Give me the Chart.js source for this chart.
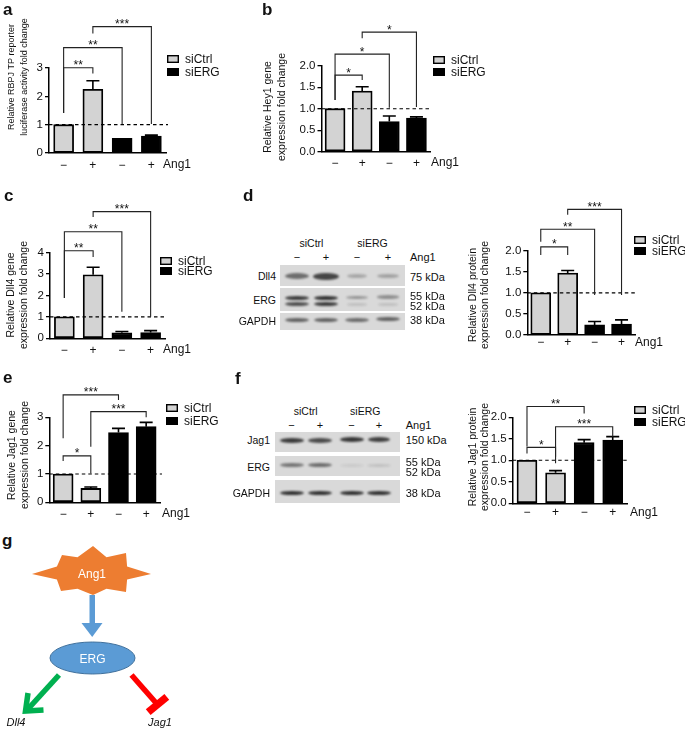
<!DOCTYPE html>
<html>
<head>
<meta charset="utf-8">
<script src="https://cdn.jsdelivr.net/npm/chart.js@4.4.1/dist/chart.umd.min.js"></script>
<style>
  body { margin: 0; background: #fff; }
  #fig { position: relative; width: 685px; height: 732px; overflow: hidden;
         font-family: "Liberation Sans", Arial, Helvetica, sans-serif; color: #111; }
  #fig canvas { position: absolute; }
  .t { position: absolute; white-space: nowrap; line-height: 1; }
  .strip { position: absolute; background: #d9d9d9; }
  .band { position: absolute; border-radius: 50%; filter: blur(1.1px); }
</style>
</head>
<body>
<div id="fig"></div>
<script>
// ===== Data =====
const lanes  = ['−', '+', '−', '+'];          // Ang1 treatment per bar
const groups = ['siCtrl', 'siERG'];
const comparisons = [[0, 1], [0, 2], [1, 3]];  // bracket pairs (bar indices)

// a – RBPJ TP reporter
const rbpjCtrl = [1.00, 2.25, null, null];
const rbpjErg  = [null, null, 0.52, 0.60];
const rbpjSem  = [0, 0.30, 0, 0.03];
const rbpjSig  = ['**', '**', '***'];

// b – Hey1 gene
const hey1Ctrl = [1.00, 1.41, null, null];
const hey1Erg  = [null, null, 0.70, 0.78];
const hey1Sem  = [0, 0.10, 0.13, 0.03];
const hey1Sig  = ['*', '*', '*'];

// c – Dll4 gene
const dll4GeneCtrl = [1.00, 2.97, null, null];
const dll4GeneErg  = [null, null, 0.26, 0.27];
const dll4GeneSem  = [0, 0.35, 0.06, 0.09];
const dll4GeneSig  = ['**', '**', '***'];

// d – Dll4 protein
const dll4ProtCtrl = [1.00, 1.47, null, null];
const dll4ProtErg  = [null, null, 0.24, 0.26];
const dll4ProtSem  = [0, 0.06, 0.08, 0.10];
const dll4ProtSig  = ['*', '**', '***'];

// e – Jag1 gene
const jag1GeneCtrl = [1.00, 0.49, null, null];
const jag1GeneErg  = [null, null, 2.46, 2.67];
const jag1GeneSem  = [0, 0.05, 0.15, 0.15];
const jag1GeneSig  = ['*', '***', '***'];

// f – Jag1 protein
const jag1ProtCtrl = [1.00, 0.71, null, null];
const jag1ProtErg  = [null, null, 1.41, 1.47];
const jag1ProtSem  = [0, 0.05, 0.07, 0.08];
const jag1ProtSig  = ['*', '**', '***'];

// ===== Layout (page pixels) =====
const panels = [
  { id: 'a', box: [0, 12, 240, 168], axisX: 49, y0: 153, yTop: 68, xEnd: 166, max: 3, step: 1, dec: 0,
    ctrl: rbpjCtrl, erg: rbpjErg, sem: rbpjSem, sig: rbpjSig,
    title: ['Relative RBPJ TP reporter', 'luciferase activity fold change'], titleX: 12, titleGap: 13, titleY: 77, titleSize: 9,
    legend: [167, 55, 13], ang: [163, 165],
    levels: [[3.01, 1.41, 2.81], [3.72, 1.41, 1.02], [4.46, 4.22, 1.02]] },
  { id: 'b', box: [245, 12, 245, 168], axisX: 321.5, y0: 151.7, yTop: 65.7, xEnd: 430, max: 2, step: 0.5, dec: 1,
    ctrl: hey1Ctrl, erg: hey1Erg, sem: hey1Sem, sig: hey1Sig,
    title: ['Relative Hey1 gene', 'expression fold change'], titleX: 268, titleGap: 14, titleY: 107, titleSize: 10.5,
    legend: [433, 56, 12], ang: [431, 163],
    levels: [[1.78, 1.20, 1.67], [2.27, 1.20, 1.02], [2.78, 2.64, 1.04]] },
  { id: 'c', box: [0, 195, 240, 170], axisX: 50, y0: 338.3, yTop: 252.7, xEnd: 165, max: 4, step: 1, dec: 0,
    ctrl: dll4GeneCtrl, erg: dll4GeneErg, sem: dll4GeneSem, sig: dll4GeneSig,
    title: ['Relative Dll4 gene', 'expression fold change'], titleX: 11, titleGap: 13, titleY: 295, titleSize: 10.5,
    legend: [160, 257, 10], ang: [163, 350],
    levels: [[4.09, 1.88, 3.80], [4.98, 1.88, 1.24], [5.92, 5.67, 1.01]] },
  { id: 'd', box: [455, 195, 230, 165], axisX: 527.3, y0: 335, yTop: 250.7, xEnd: 635, max: 2, step: 0.5, dec: 1,
    ctrl: dll4ProtCtrl, erg: dll4ProtErg, sem: dll4ProtSem, sig: dll4ProtSig,
    title: ['Relative Dll4 protein', 'expression fold change'], titleX: 473, titleGap: 12.5, titleY: 295, titleSize: 10.5,
    legend: [634, 236, 11], ang: [635, 342.7],
    levels: [[2.09, 1.90, 1.90], [2.51, 2.21, 0.95], [2.98, 2.85, 0.95]] },
  { id: 'e', box: [0, 378, 240, 150], axisX: 49.3, y0: 502.3, yTop: 417.3, xEnd: 160, max: 3, step: 1, dec: 0,
    ctrl: jag1GeneCtrl, erg: jag1GeneErg, sem: jag1GeneSem, sig: jag1GeneSig,
    title: ['Relative Jag1 gene', 'expression fold change'], titleX: 12, titleGap: 13, titleY: 455, titleSize: 10.5,
    legend: [166, 404, 13], ang: [162, 514],
    levels: [[1.64, 1.46, 1.02], [3.79, 2.26, 3.61], [3.20, 1.96, 3.00]] },
  { id: 'f', box: [455, 378, 230, 150], axisX: 512.7, y0: 503.3, yTop: 417.3, xEnd: 627, max: 2, step: 0.5, dec: 1,
    ctrl: jag1ProtCtrl, erg: jag1ProtErg, sem: jag1ProtSem, sig: jag1ProtSig,
    title: ['Relative Jag1 protein', 'expression fold change'], titleX: 473, titleGap: 12.5, titleY: 457, titleSize: 10.5,
    legend: [634, 406, 12], ang: [630, 512.7],
    levels: [[1.30, 1.16, 0.93], [2.25, 1.32, 2.09], [1.78, 1.08, 1.55]] },
];

const FONT = '"Liberation Sans", Arial, Helvetica, sans-serif';
const GREY = '#d3d3d3';
const fig = document.getElementById('fig');
Chart.defaults.font.family = FONT;
Chart.defaults.color = '#111';

// ===== Helpers =====
function txt(x, y, s, o = {}) {
  const el = document.createElement('div');
  el.className = 't';
  el.textContent = s;
  el.style.left = x + 'px';
  el.style.top = y + 'px';
  el.style.fontSize = (o.size || 11) + 'px';
  const ax = o.align === 'right' ? '-100%' : o.align === 'left' ? '0' : '-50%';
  el.style.transform = `translate(${ax},-50%)`;
  if (o.bold) el.style.fontWeight = 'bold';
  if (o.italic) el.style.fontStyle = 'italic';
  fig.appendChild(el);
}

// brackets, error bars, dashed line, legend, axis title
function panelPlugin(p) {
  return {
    id: 'panel' + p.id,
    afterDatasetsDraw(chart) {
      const { ctx, chartArea: ca, scales: { x, y } } = chart;
      ctx.save();

      // reference line at 1
      const y1 = y.getPixelForValue(1);
      ctx.strokeStyle = '#000';
      ctx.lineWidth = 1.1;
      ctx.setLineDash([3.5, 3]);
      ctx.beginPath(); ctx.moveTo(ca.left, y1); ctx.lineTo(ca.right + 2, y1); ctx.stroke();
      ctx.setLineDash([]);

      // SEM (upper only)
      ctx.lineWidth = 1.6;
      p.sem.forEach((e, i) => {
        if (!e) return;
        const v = p.ctrl[i] ?? p.erg[i];
        const cx = x.getPixelForTick(i);
        const yb = y.getPixelForValue(v), yt = y.getPixelForValue(v + e);
        ctx.beginPath();
        ctx.moveTo(cx, yb); ctx.lineTo(cx, yt);
        ctx.moveTo(cx - 6.5, yt); ctx.lineTo(cx + 6.5, yt);
        ctx.stroke();
      });

      // significance brackets
      ctx.lineWidth = 1.1;
      ctx.strokeStyle = '#222';
      ctx.fillStyle = '#111';
      ctx.font = `12px ${FONT}`;
      ctx.textAlign = 'center';
      ctx.textBaseline = 'alphabetic';
      comparisons.forEach(([i, j], k) => {
        const [top, lEnd, rEnd] = p.levels[k];
        const xa = x.getPixelForTick(i), xb = x.getPixelForTick(j);
        const yt = y.getPixelForValue(top);
        ctx.beginPath();
        ctx.moveTo(xa, y.getPixelForValue(lEnd));
        ctx.lineTo(xa, yt); ctx.lineTo(xb, yt);
        ctx.lineTo(xb, y.getPixelForValue(rEnd));
        ctx.stroke();
        ctx.fillText(p.sig[k], (xa + xb) / 2, yt + 1.5);
      });

      // page coordinates from here
      ctx.translate(-p.box[0], -p.box[1]);

      // legend
      const [lx, ly, gap] = p.legend;
      ctx.font = `12px ${FONT}`;
      ctx.textAlign = 'left';
      ctx.textBaseline = 'middle';
      chart.data.datasets.forEach((ds, n) => {
        const by = ly + n * gap;
        ctx.fillStyle = ds.backgroundColor;
        ctx.fillRect(lx, by, 12, 8);
        ctx.strokeStyle = '#000';
        ctx.lineWidth = 1.4;
        ctx.strokeRect(lx + 0.7, by + 0.7, 10.6, 6.6);
        ctx.fillStyle = '#111';
        ctx.fillText(ds.label, lx + 18, by + 4.5);
      });

      // treatment label
      ctx.fillText('Ang1', p.ang[0], p.ang[1]);

      // y axis title
      ctx.font = `${p.titleSize}px ${FONT}`;
      ctx.textAlign = 'center';
      p.title.forEach((line, n) => {
        ctx.save();
        ctx.translate(p.titleX + n * p.titleGap, p.titleY);
        ctx.rotate(-Math.PI / 2);
        ctx.fillText(line, 0, 0);
        ctx.restore();
      });
      ctx.restore();
    }
  };
}

function makePanel(p) {
  const [L, T, W, H] = p.box;
  const yW = 28, xH = 20;
  const cv = document.createElement('canvas');
  cv.width = W; cv.height = H;
  cv.style.left = L + 'px'; cv.style.top = T + 'px';
  fig.appendChild(cv);

  const bar = { borderColor: '#000', borderWidth: 1.8, borderSkipped: false, grouped: false, barThickness: 20 };
  new Chart(cv, {
    type: 'bar',
    data: {
      labels: lanes,
      datasets: [
        { ...bar, label: groups[0], data: p.ctrl, backgroundColor: GREY },
        { ...bar, label: groups[1], data: p.erg, backgroundColor: '#000' },
      ],
    },
    options: {
      responsive: false,
      animation: false,
      devicePixelRatio: 1,
      events: [],
      layout: { padding: {
        left: p.axisX - L - yW, top: p.yTop - T,
        right: L + W - p.xEnd, bottom: T + H - p.y0 - xH } },
      plugins: { legend: { display: false }, tooltip: { enabled: false } },
      scales: {
        x: {
          grid: { display: false, drawTicks: false },
          border: { color: '#000', width: 1.5 },
          ticks: { font: { size: 12 }, padding: Math.max(0, p.ang[1] - p.y0 - 7), maxRotation: 0 },
          afterFit: s => { s.height = xH; },
        },
        y: {
          min: 0, max: p.max,
          grid: { drawOnChartArea: false, color: '#000', lineWidth: 1.3, tickLength: 4 },
          border: { color: '#000', width: 1.5 },
          ticks: { stepSize: p.step, font: { size: 11.5 }, padding: 2, callback: v => v.toFixed(p.dec) },
          afterFit: s => { s.width = yW; },
        },
      },
    },
    plugins: [panelPlugin(p)],
  });
}

panels.forEach(makePanel);

// ===== Panel letters =====
[['a', 3, 9], ['b', 262, 9], ['c', 4, 195], ['d', 243, 195], ['e', 3, 377], ['f', 235, 378], ['g', 2, 540]]
  .forEach(([s, x, y]) => txt(x, y, s, { align: 'left', size: 17, bold: true }));

// ===== Western blots =====
function blot(b) {
  b.strips.forEach(([x, y, w, h]) => {
    const el = document.createElement('div');
    el.className = 'strip';
    Object.assign(el.style, { left: x + 'px', top: y + 'px', width: w + 'px', height: h + 'px' });
    fig.appendChild(el);
  });
  b.bands.forEach(([lane, y, h, a, w]) => {
    const el = document.createElement('div');
    el.className = 'band';
    const bw = w || 24;
    Object.assign(el.style, {
      left: (b.laneX[lane] - bw / 2) + 'px', top: (y - h / 2) + 'px',
      width: bw + 'px', height: h + 'px', background: `rgba(20,20,20,${a})` });
    fig.appendChild(el);
  });
  txt((b.laneX[0] + b.laneX[1]) / 2, b.headY, 'siCtrl', { size: 10.5 });
  txt((b.laneX[2] + b.laneX[3]) / 2, b.headY, 'siERG', { size: 10.5 });
  lanes.forEach((s, i) => txt(b.laneX[i], b.signY, s, { size: 11 }));
  txt(b.kdaX, b.signY, 'Ang1', { align: 'left', size: 11 });
  b.rows.forEach(([name, y]) => txt(b.nameX, y, name, { align: 'right', size: 10.5 }));
  b.kda.forEach(([s, y]) => txt(b.kdaX, y, s, { align: 'left', size: 11 }));
}

blot({
  laneX: [297, 326, 357, 388], headY: 243, signY: 257, nameX: 276, kdaX: 410,
  strips: [[280, 265, 125, 21], [280, 288, 125, 23], [280, 313, 125, 17]],
  bands: [
    [0, 276, 6, 0.55], [1, 276, 7, 0.75, 26], [2, 276, 4, 0.25, 20], [3, 276, 4, 0.28, 22],
    [0, 297.5, 4, 0.8], [1, 297.5, 4, 0.85], [2, 297.5, 3.5, 0.35, 22], [3, 297, 3.5, 0.38, 22],
    [0, 304, 4, 0.7], [1, 304, 4, 0.8], [2, 304.5, 2.5, 0.12, 20], [3, 304.5, 2.5, 0.12, 20],
    [0, 320, 4, 0.6], [1, 320, 4, 0.6], [2, 320, 4, 0.55], [3, 319, 4, 0.6],
  ],
  rows: [['Dll4', 276], ['ERG', 300], ['GAPDH', 321]],
  kda: [['75 kDa', 277], ['55 kDa', 295.7], ['52 kDa', 305.7], ['38 kDa', 320]],
});

blot({
  laneX: [291.5, 320, 351.5, 379], headY: 410.7, signY: 425, nameX: 270, kdaX: 405.7,
  strips: [[275, 431.5, 125, 20], [275, 456, 125, 20], [275, 480, 125, 22.5]],
  bands: [
    [0, 440, 5, 0.8], [1, 440.5, 5, 0.72], [2, 439, 5, 0.82], [3, 439, 5, 0.78, 22],
    [0, 465, 4, 0.5], [1, 465, 4, 0.55], [2, 465.5, 3, 0.08], [3, 465.5, 3, 0.12],
    [0, 492.5, 4, 0.85], [1, 492.5, 4, 0.85], [2, 492.5, 4, 0.85], [3, 492.5, 4, 0.85],
  ],
  rows: [['Jag1', 440], ['ERG', 467], ['GAPDH', 492.7]],
  kda: [['150 kDa', 440], ['55 kDa', 461.7], ['52 kDa', 472.3], ['38 kDa', 492.7]],
});

// ===== Panel g: scheme =====
(function scheme() {
  const cx = 92, cy = 573;
  const tips = [[151, 574], [126, 553], [93, 546], [62, 555], [32, 574], [61, 591], [93, 595], [126, 592]];
  const pts = [];
  tips.forEach((t, k) => {
    pts.push(t.join(','));
    const a = (22.5 + 45 * k) * Math.PI / 180;
    pts.push([(cx + 38 * Math.cos(a)).toFixed(1), (cy - 17 * Math.sin(a)).toFixed(1)].join(','));
  });
  const svg = `
  <svg xmlns="http://www.w3.org/2000/svg" width="330" height="212" viewBox="0 520 330 212"
       style="position:absolute;left:0;top:520px" font-family='${FONT}'>
    <polygon points="${pts.join(' ')}" fill="#ED7D31"/>
    <text x="${cx}" y="${cy + 1}" fill="#fff" font-size="12" text-anchor="middle" dominant-baseline="central">Ang1</text>
    <rect x="89.5" y="595" width="5.5" height="29" fill="#5B9BD5"/>
    <polygon points="81.5,623 102.5,623 92.2,637" fill="#5B9BD5"/>
    <ellipse cx="92.5" cy="658" rx="42.5" ry="16" fill="#5B9BD5" stroke="#41719C" stroke-width="1"/>
    <text x="92.5" y="659" fill="#fff" font-size="12" text-anchor="middle" dominant-baseline="central">ERG</text>
    <line x1="59" y1="675" x2="28" y2="709" stroke="#00B050" stroke-width="5.5"/>
    <polyline points="28,693 25.5,711 43.5,710" fill="none" stroke="#00B050" stroke-width="5.5" stroke-linejoin="miter"/>
    <line x1="131.5" y1="675" x2="157" y2="704" stroke="#FF0000" stroke-width="5.5"/>
    <line x1="148.2" y1="712.1" x2="166.8" y2="696.9" stroke="#FF0000" stroke-width="7.5"/>
    <text x="16" y="722" font-size="11" font-style="italic" text-anchor="middle" dominant-baseline="central" fill="#111">Dll4</text>
    <text x="160" y="722" font-size="11" font-style="italic" text-anchor="middle" dominant-baseline="central" fill="#111">Jag1</text>
  </svg>`;
  fig.insertAdjacentHTML('beforeend', svg);
})();
</script>
</body>
</html>
